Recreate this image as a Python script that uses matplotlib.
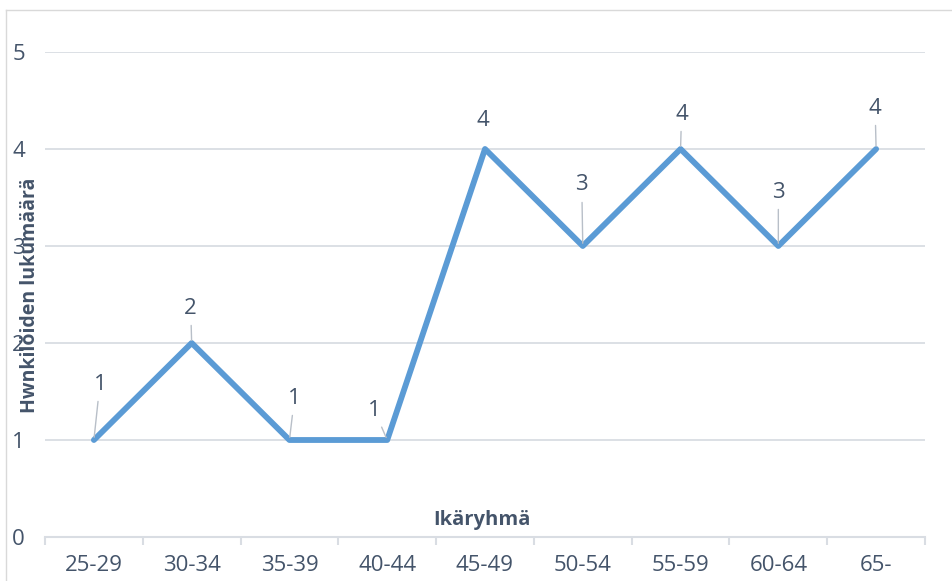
import matplotlib.pyplot as plt
from matplotlib.lines import Line2D

plt.rcParams['font.family'] = ['Open Sans', 'DejaVu Sans']

# data
ageGroups = ['25-29', '30-34', '35-39', '40-44', '45-49', '50-54', '55-59', '60-64', '65-']
counts = [1, 2, 1, 1, 4, 3, 4, 3, 4]

# label offsets in pixels (dx, dy) and whether a leader line is drawn
labelOffsets = [(6, 56), (-1, 35), (5, 42), (-13, 30), (-2, 28),
                (-1, 61), (1, 35), (0, 54), (-1, 41)]
hasLeader = [True, True, True, True, False, True, True, True, True]

textCol = '#44546a'
gridCol = '#d9dde3'
lineCol = '#5b9bd5'

W, H = 952, 581
fig = plt.figure(figsize=(W/100., H/100.), dpi=100)
ax = fig.add_axes([45./W, 1-537./H, 880./W, 485./H])

x = list(range(len(ageGroups)))
ax.plot(x, counts, color=lineCol, lw=4.2, solid_joinstyle='round',
        solid_capstyle='round', zorder=3)

for i, (xi, yi) in enumerate(zip(x, counts)):
    dx, dy = labelOffsets[i]
    if hasLeader[i]:
        ap = dict(arrowstyle='-', color='#b8bfc8', lw=1.0, shrinkA=3, shrinkB=2)
    else:
        ap = None
    ax.annotate(str(yi), (xi, yi), xytext=(dx, dy), textcoords='offset pixels',
                ha='center', va='center', fontsize=16, color=textCol,
                arrowprops=ap, zorder=4)

ax.set_xlim(-0.5, len(ageGroups)-0.5)
ax.set_ylim(0, 5)
ax.set_yticks([0, 1, 2, 3, 4, 5])
ax.set_xticks(x)
ax.set_xticklabels(ageGroups)
ax.set_xticks([i-0.5 for i in range(len(ageGroups)+1)], minor=True)

ax.tick_params(axis='x', which='major', length=0, pad=13, labelsize=16, labelcolor=textCol)
ax.tick_params(axis='x', which='minor', length=6, width=1.5, color=gridCol)
ax.tick_params(axis='y', length=0, pad=19, labelsize=16, labelcolor=textCol)
for lab in ax.get_yticklabels():
    lab.set_horizontalalignment('center')

ax.grid(axis='y', color=gridCol, lw=1.3)
ax.set_axisbelow(True)
for s in ['top', 'right', 'left']:
    ax.spines[s].set_visible(False)
ax.spines['bottom'].set_color(gridCol)
ax.spines['bottom'].set_linewidth(1.5)

ax.text(437./880, 17./485, 'Ikäryhmä', transform=ax.transAxes, ha='center', va='center',
        fontsize=14.5, fontweight='bold', color=textCol)
fig.text(30./W, 1-295./H, 'Hwnkilöiden lukumäärä', rotation=90, ha='center',
         va='center', fontsize=14, fontweight='bold', color=textCol)

# chart border
fig.add_artist(Line2D([6./W, 6./W], [0, 1-10./H], color='#d9d9d9', lw=1))
fig.add_artist(Line2D([6./W, 1], [1-10./H, 1-10./H], color='#d9d9d9', lw=1))

fig.savefig('out.png', dpi=100)
